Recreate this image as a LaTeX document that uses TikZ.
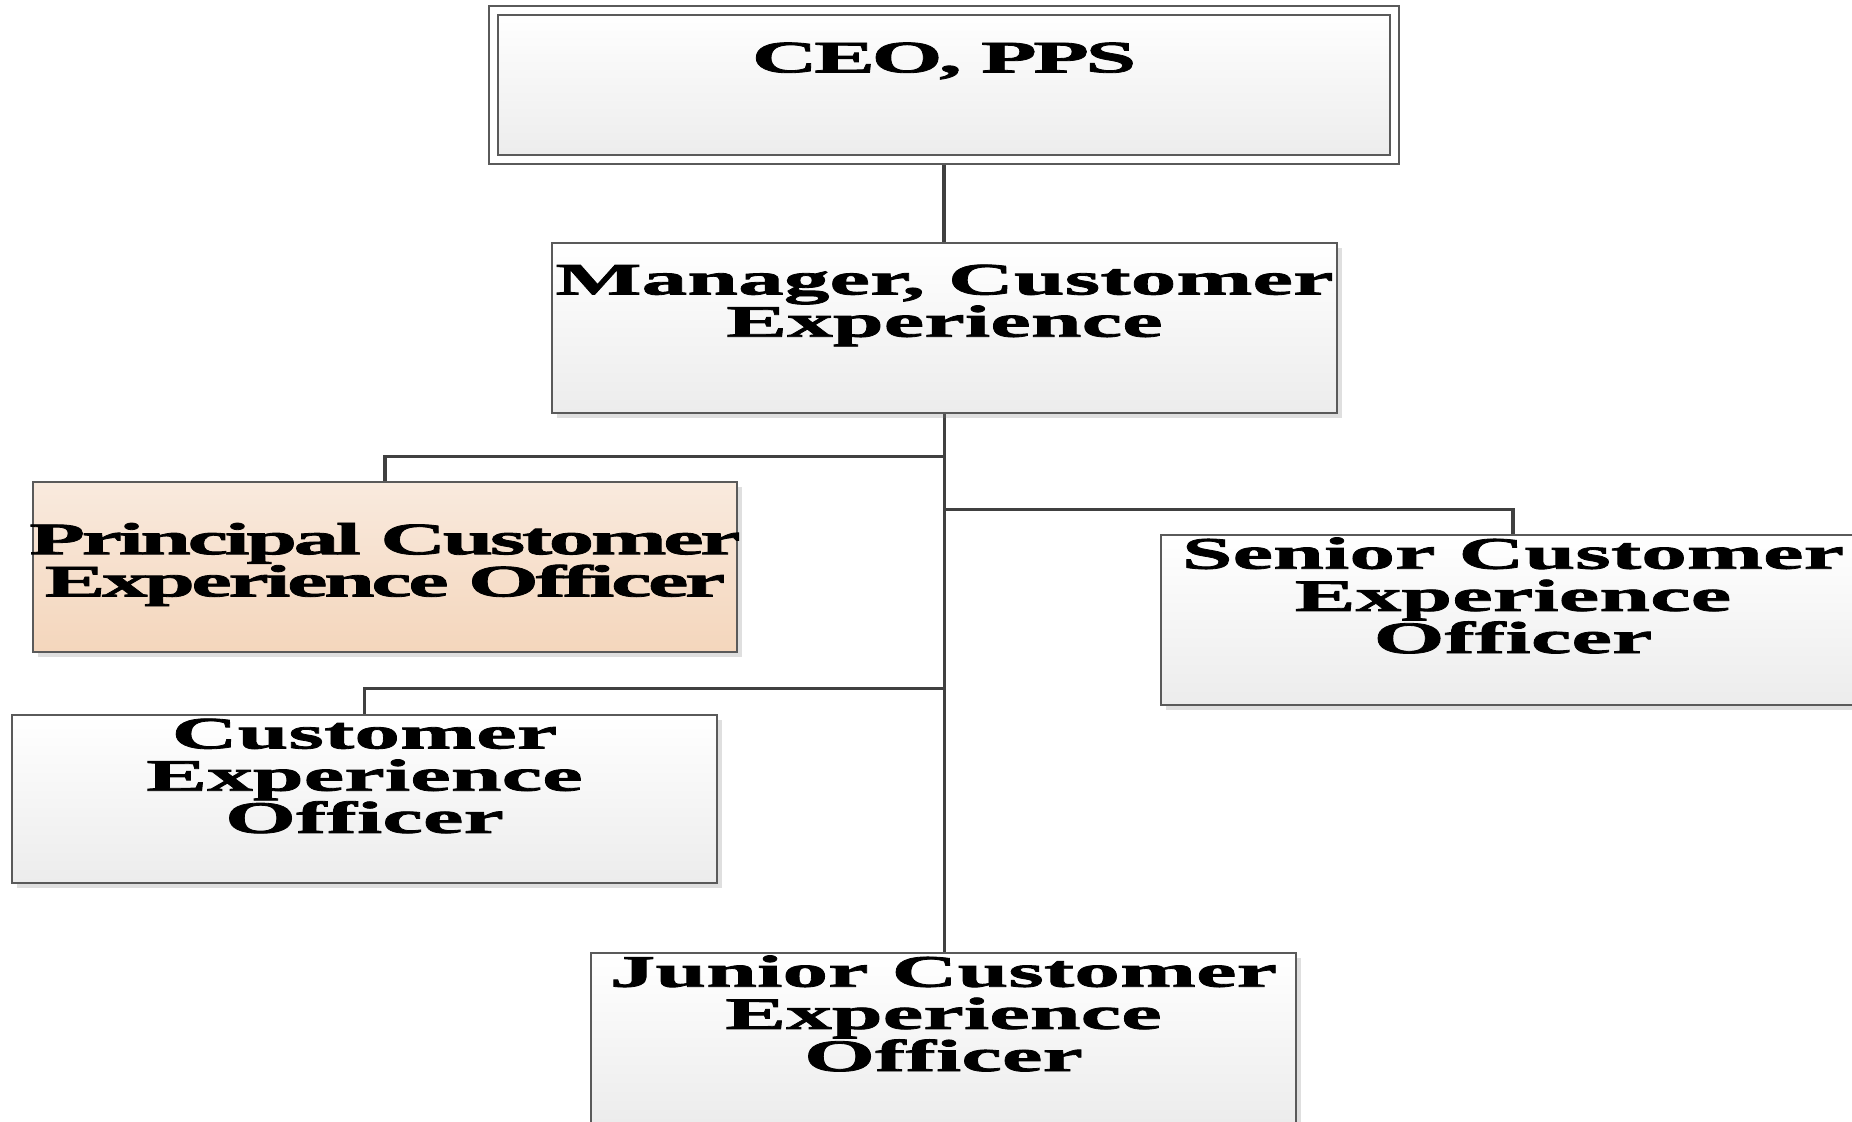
\documentclass[tikz,border=0pt]{standalone}
\usepackage{fontspec}
\usepackage{xcolor}
\usepackage{tikz}
\usetikzlibrary{positioning, calc, shadows, backgrounds}
\newfontfamily\chartfont[FakeStretch=2.03, BoldFeatures={FakeBold=1.8}]{Liberation Serif}
\newcommand\tightlines{\lineskiplimit-20pt\relax}
\definecolor{BoxLine}{RGB}{90,90,90}
\definecolor{LinkLine}{RGB}{64,64,64}
\definecolor{BoxBottom}{RGB}{236,236,236}
\definecolor{PeachTop}{RGB}{249,234,222}
\definecolor{PeachBottom}{RGB}{244,214,188}
\tikzset{
    postbox/.style={
        draw=BoxLine, line width=0.6pt,
        top color=white, bottom color=BoxBottom,
        drop shadow={shadow xshift=0.05cm, shadow yshift=-0.05cm, opacity=0.25, fill=gray},
        minimum width=7.04cm, minimum height=1.7cm, inner sep=0pt
    },
    posttext/.style={
        align=center, inner sep=0pt,
        font={\chartfont\bfseries\fontsize{12.8}{12}\selectfont\tightlines}
    },
    narrowtext/.style={
        posttext,
        font={\chartfont\bfseries\fontsize{12.8}{12}\selectfont\tightlines\addfontfeature{LetterSpace=-8}}
    },
    link/.style={
        draw=LinkLine, line width=0.9pt
    }
}

\begin{document}
\begin{tikzpicture}[x=0.01cm, y=-0.01cm]

    \useasboundingbox (0,0) rectangle (1852,1122);
    \clip (0,0) rectangle (1852,1122);

    % --- CÁC Ô CHỨC DANH ---
    \node[postbox, double=white, double distance=0.07cm,
          minimum width=9.01cm, minimum height=1.49cm] (ceo) at (944,85) {};
    \node[postbox, minimum width=7.85cm] (mgr) at (944.5,328) {};
    \node[postbox, top color=PeachTop, bottom color=PeachBottom] (pri) at (385,567) {};
    \node[postbox] (sen) at (1513,620) {};
    \node[postbox, minimum height=1.68cm] (cxo) at (364.5,799) {};
    \node[postbox] (jun) at (943.5,1038) {};

    % --- CHỮ TRONG Ô ---
    \node[narrowtext, yshift=0.24cm] (ceoText) at (ceo) {CEO, PPS};
    \node[posttext, yshift=0.225cm] (mgrText) at (mgr) {Manager, Customer\\Experience};
    \node[narrowtext, yshift=0.025cm] (priText) at (pri) {Principal Customer\\Experience Officer};
    \node[posttext, yshift=0.245cm] (senText) at (sen) {Senior Customer\\Experience\\Officer};
    \node[posttext, yshift=0.23cm] (cxoText) at (cxo) {Customer\\Experience\\Officer};
    \node[posttext, yshift=0.245cm] (junText) at (jun) {Junior Customer\\Experience\\Officer};

    % --- ĐƯỜNG NỐI (nằm dưới các ô) ---
    \begin{scope}[on background layer]
        \coordinate (tPri) at ($(mgr.south)+(0,42)$);
        \coordinate (tSen) at ($(mgr.south)+(0,95)$);
        \coordinate (tCxo) at ($(mgr.south)+(0,274)$);
        \draw[link] (ceo) -- (ceo |- mgr.north);
        \draw[link] (mgr) -- (mgr |- jun.north);
        \draw[link] (tPri) -| (pri.north);
        \draw[link] (tSen) -| (sen.north);
        \draw[link] (tCxo) -| (cxo.north);
    \end{scope}

\end{tikzpicture}
\end{document}
